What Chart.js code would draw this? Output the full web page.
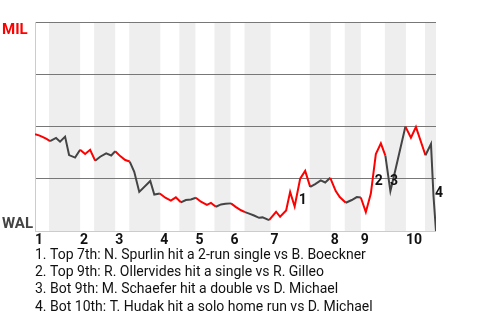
<!DOCTYPE html>
<html>
<head>
<meta charset="utf-8">
<script src="https://cdn.jsdelivr.net/npm/chart.js@4.4.1/dist/chart.umd.min.js"></script>
<style>
html, body { margin: 0; padding: 0; background: #fff; }
#wp { display: block; }
</style>
</head>
<body>
<canvas id="wp" width="480" height="320"></canvas>
<script>
// play number along the game and MIL win probability (%) after each play
const playNo = [0, 0.8, 1.6, 2.3, 3.0, 4.2, 5.0, 6.0, 6.8, 8.0,
	9.0, 10.0, 11.0, 12.0, 13.0, 14.2, 15.2, 16.0, 17.0, 18.0,
	18.9, 19.8, 20.8, 23.0, 23.8, 24.9, 26.0, 27.1, 28.1, 29.1,
	30.1, 31.1, 32.1, 33.1, 34.3, 35.1, 36.1, 37.1, 38.0, 39.1,
	40.1, 41.1, 41.9, 42.6, 43.7, 44.7, 45.4, 46.7, 48.1, 48.9,
	50.1, 50.9, 51.8, 52.9, 53.9, 54.9, 55.9, 57.0, 57.9, 58.9,
	60.0, 60.8, 62.0, 63.2, 64.2, 65.0, 66.0, 67.0, 68.0, 69.0,
	69.9, 70.9, 72.0, 73.9, 75.0, 76.0, 77.9, 79.0, 79.5, 80.0];
const milWinPct = [46.4, 45.8, 45.0, 44.1, 43.1, 44.6, 42.8, 45.2, 36.4, 35.2,
	38.9, 36.9, 38.9, 33.7, 35.6, 37.2, 36.2, 38.2, 35.9, 34.0,
	33.3, 28.4, 18.8, 24.0, 17.5, 18.0, 16.0, 14.6, 16.2, 13.8,
	14.9, 15.2, 16.0, 14.1, 12.6, 13.5, 11.7, 12.8, 13.1, 13.3,
	11.5, 10.0, 9.1, 8.5, 7.5, 6.4, 6.6, 5.3, 9.3, 6.9,
	9.9, 18.8, 11.8, 25.1, 28.8, 21.2, 22.5, 24.3, 23.3, 25.5,
	19.2, 16.3, 13.6, 14.9, 16.3, 16.1, 9.1, 18.0, 36.9, 42.0,
	36.1, 19.2, 30.3, 50.0, 44.7, 49.8, 36.3, 41.7, 16.8, 0];

// where each inning and each bottom half begins (in plays)
const inningStarts = [0, 9, 16, 25, 32, 39, 47, 59, 65, 74];
const bottomStarts = [2.8, 11.8, 18.8, 28.8, 35.8, 41.8, 54.8, 61.8, 69.8, 77.8];
const gameEnd = 80;
const inningLabels = ['1', '2', '3', '4', '5', '6', '7', '8', '9', '10'];

// key plays
const eventPlay = [52.8, 68.0, 71.0, 80.0];
const eventPct = [14.9, 23.6, 23.6, 17.8];
const eventText = ['1', '2', '3', '4'];
const notes = [
	'1. Top 7th: N. Spurlin hit a 2-run single vs B. Boeckner',
	'2. Top 9th: R. Ollervides hit a single vs R. Gilleo',
	'3. Bot 9th: M. Schaefer hit a double vs D. Michael',
	'4. Bot 10th: T. Hudak hit a solo home run vs D. Michael'
];

function halfColor(ctx)
{
	let mid = (ctx.p0.parsed.x + ctx.p1.parsed.x) / 2;
	let i = inningStarts.length - 1;
	while (i > 0 && mid < inningStarts[i]) i--;
	return mid >= bottomStarts[i] ? '#444444' : '#ff0000';
}

const bands = {
	id: 'bands',
	beforeDraw(chart)
	{
		let {ctx, chartArea, scales} = chart;
		ctx.save();
		ctx.fillStyle = '#eeeeee';
		bottomStarts.forEach(function(b, i)
		{
			let end = i + 1 < inningStarts.length ? inningStarts[i + 1] : gameEnd;
			let x0 = scales.x.getPixelForValue(b);
			let x1 = scales.x.getPixelForValue(end);
			ctx.fillRect(x0, chartArea.top, x1 - x0, chartArea.bottom - chartArea.top);
		});
		ctx.restore();
	}
};

const labels = {
	id: 'labels',
	afterDraw(chart)
	{
		let {ctx, scales} = chart;
		ctx.save();
		ctx.textAlign = 'left';
		ctx.textBaseline = 'alphabetic';
		ctx.font = 'bold 15px Roboto';
		ctx.fillStyle = '#ff0000';
		ctx.fillText('MIL', 2, scales.y.getPixelForValue(100) + 12);
		ctx.fillStyle = '#444444';
		ctx.fillText('WAL', 2, scales.y.getPixelForValue(0) - 3.5);

		ctx.font = 'bold 14px Roboto';
		ctx.fillStyle = '#111111';
		ctx.textBaseline = 'middle';
		eventText.forEach(function(t, i)
		{
			ctx.fillText(t, scales.x.getPixelForValue(eventPlay[i]) - 1, scales.y.getPixelForValue(eventPct[i]));
		});

		ctx.font = '14px Roboto';
		ctx.textBaseline = 'alphabetic';
		notes.forEach(function(t, i)
		{
			ctx.fillText(t, 35, 259 + i * 17.2);
		});
		ctx.restore();
	}
};

let ctx = document.getElementById('wp').getContext('2d');
let chart = new Chart(ctx, {
	type: 'line',
	data: {
		datasets: [{
			data: playNo.map(function(p, i) { return {x: p, y: milWinPct[i]}; }),
			borderColor: '#444444',
			borderWidth: 2,
			pointRadius: 0,
			tension: 0,
			segment: {
				borderColor: halfColor
			}
		}]
	},
	options: {
		responsive: false,
		animation: false,
		events: [],
		layout: {
			padding: {left: 35, right: 44, top: 22, bottom: 70}
		},
		plugins: {
			legend: {display: false},
			tooltip: {enabled: false}
		},
		scales: {
			x: {
				type: 'linear',
				min: 0,
				max: gameEnd,
				grid: {display: false, drawTicks: false},
				border: {display: false},
				afterBuildTicks: function(scale)
				{
					scale.ticks = inningStarts.map(function(v) { return {value: v}; });
				},
				ticks: {
					autoSkip: false,
					maxRotation: 0,
					align: 'start',
					padding: 1,
					color: '#111111',
					font: {family: 'Roboto', size: 14, weight: 'bold'},
					callback: function(value, index) { return inningLabels[index]; }
				}
			},
			y: {
				min: 0,
				max: 100,
				ticks: {display: false, stepSize: 25},
				grid: {
					drawTicks: false,
					lineWidth: 1,
					color: function(c) { return c.tick && c.tick.value === 0 ? '#cccccc' : '#777777'; }
				},
				border: {color: '#cccccc'}
			}
		}
	},
	plugins: [bands, labels]
});
</script>
</body>
</html>
